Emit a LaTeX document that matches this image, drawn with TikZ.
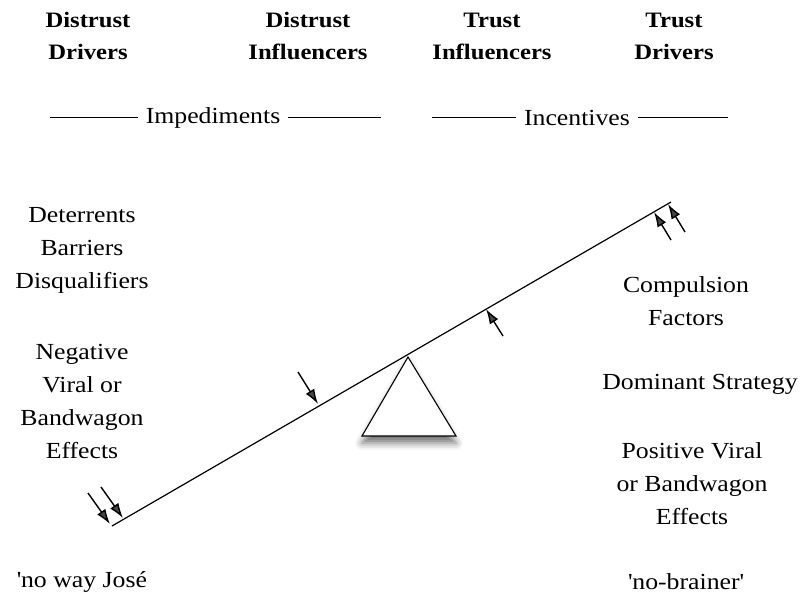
\documentclass[tikz,border=0pt]{standalone}
\usepackage{fontspec}
\setmainfont{Liberation Serif}[FakeStretch=1.12]
\usetikzlibrary{arrows.meta,shadows.blur}
\begin{document}
\begin{tikzpicture}[x=1pt,y=-1pt,
  lbl/.style={align=center,font=\fontsize{23}{33}\selectfont,inner sep=0pt},
  head/.style={lbl,font=\fontsize{22}{32}\selectfont\bfseries},
  grp/.style={lbl,inner xsep=8pt},
  rule/.style={line width=1pt},
  push/.style={line width=1.4pt,-{Latex[length=15pt,width=10pt]}},
  beam/.style={line width=1.2pt}]
\useasboundingbox (0,0) rectangle (800,600);
% headings
\node[head] (h1) at (88,36) {Distrust\\Drivers};
\node[head] (h2) at (308,36) {Distrust\\Influencers};
\node[head] (h3) at (492,36) {Trust\\Influencers};
\node[head] (h4) at (674,36) {Trust\\Drivers};
% group labels
\node[grp] (imp) at (213,118) {Impediments};
\coordinate (impL) at (50,117);
\coordinate (impR) at (381,117);
\draw[rule] (impL) -- (impL -| imp.west);
\draw[rule] (impR -| imp.east) -- (impR);
\node[grp] (inc) at (577,118) {Incentives};
\coordinate (incL) at (432,117);
\coordinate (incR) at (728,117);
\draw[rule] (incL) -- (incL -| inc.west);
\draw[rule] (incR -| inc.east) -- (incR);
% left texts
\node[lbl] (det) at (82,250) {Deterrents\\Barriers\\Disqualifiers};
\node[lbl] (neg) at (82,401) {Negative\\Viral or\\Bandwagon\\Effects};
\node[lbl] (noway) at (82,582) {\textquotesingle no way Jos\'e};
% right texts
\node[lbl] (comp) at (686,301) {Compulsion\\Factors};
\node[lbl] (dom) at (700,384) {Dominant Strategy};
\node[lbl] (pos) at (692,484) {Positive Viral\\or Bandwagon\\Effects};
\node[lbl] (nob) at (686,582) {\textquotesingle no-brainer\textquotesingle};
% fulcrum
\draw[line width=1.1pt,fill=white,blur shadow={shadow xshift=0pt,shadow yshift=-7pt,shadow blur radius=7pt,shadow opacity=55}]
  (408,357) coordinate (apex) -- (456,436) coordinate (baseR) -- (362,436) coordinate (baseL) -- cycle;
% beam
\coordinate (bL) at (112,526);
\coordinate (bR) at (671,202);
\draw[beam] (bL) -- (bR);
% arrows
\coordinate (a1s) at (88,493);  \coordinate (a1t) at (110,524);
\coordinate (a2s) at (101,487); \coordinate (a2t) at (123,518);
\coordinate (a3s) at (298,372); \coordinate (a3t) at (318,404);
\coordinate (a4s) at (503,336); \coordinate (a4t) at (486,309);
\coordinate (a5s) at (671,240); \coordinate (a5t) at (654,212);
\coordinate (a6s) at (685,232); \coordinate (a6t) at (668,204);
\foreach \s/\t in {a1s/a1t,a2s/a2t,a3s/a3t,a4s/a4t,a5s/a5t,a6s/a6t}
  \draw[push] (\s) -- (\t);
\end{tikzpicture}
\end{document}
